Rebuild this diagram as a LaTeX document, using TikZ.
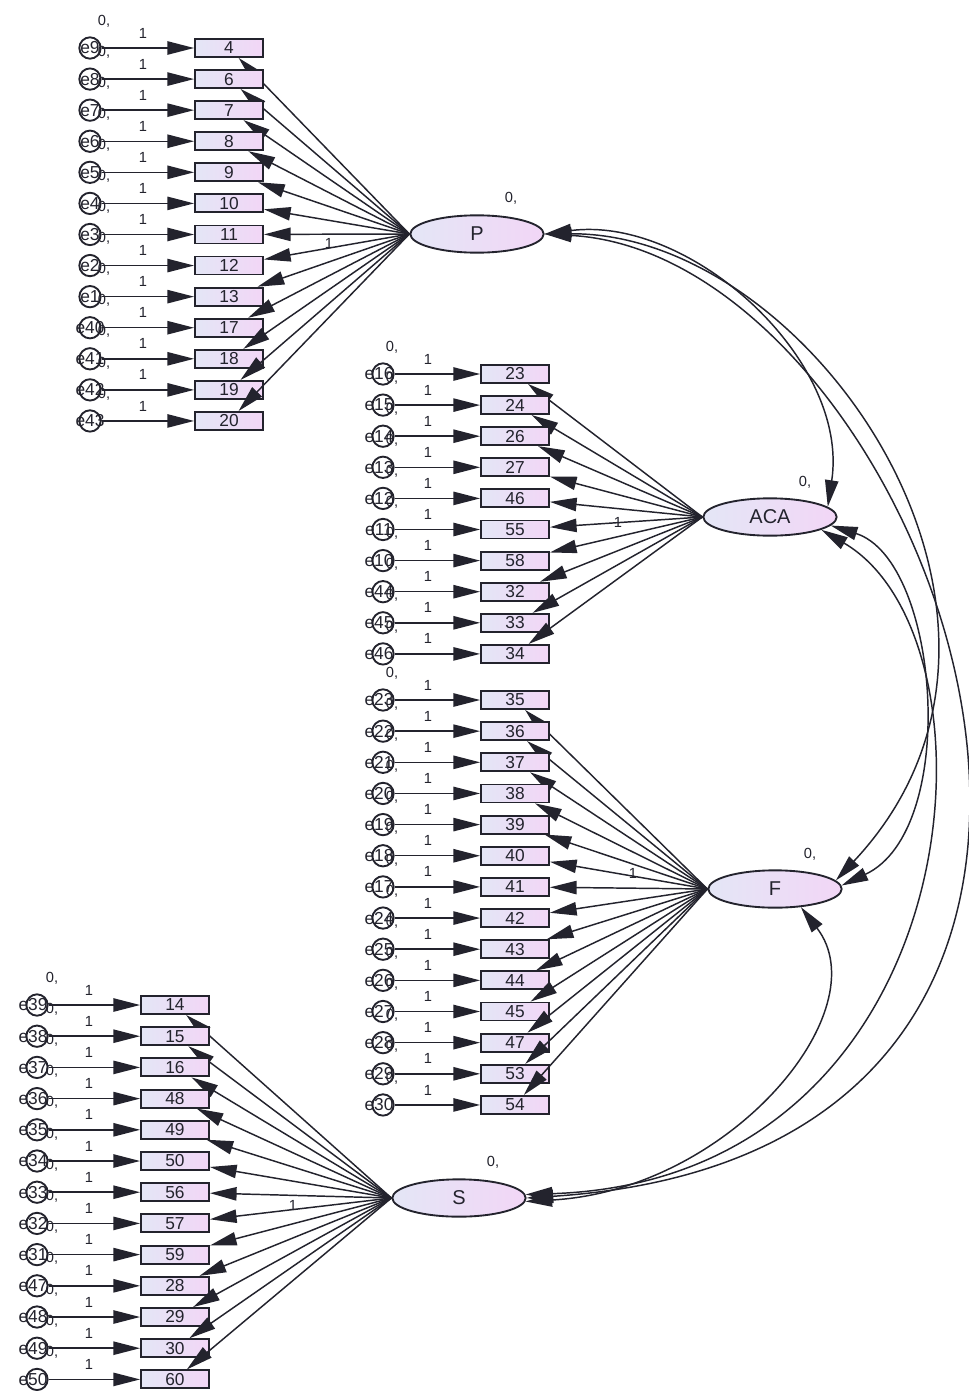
\documentclass[tikz,border=0pt]{standalone}
\usepackage{fontspec}
\setmainfont{Liberation Sans}
\usetikzlibrary{arrows.meta,shapes.geometric}
\definecolor{boxL}{RGB}{228,230,246}
\definecolor{boxR}{RGB}{242,214,246}
\definecolor{ink}{RGB}{35,35,45}
\begin{document}
\begin{tikzpicture}[x=0.75pt,y=-0.75pt,
  >={Triangle[length=20pt,width=10pt]},
  obs/.style={draw=ink, line width=1.4pt, left color=boxL, right color=boxR, minimum width=51pt, minimum height=13.5pt, inner sep=0pt, font=\fontsize{13}{13}\selectfont, text=ink},
  lat/.style={ellipse, draw=ink, line width=1.4pt, left color=boxL, right color=boxR, minimum width=100pt, minimum height=28pt, inner sep=0pt, font=\fontsize{15}{15}\selectfont, text=ink},
  err/.style={circle, draw=ink, line width=1.4pt, fill=white, minimum size=16pt, inner sep=0pt},
  errlab/.style={font=\fontsize{13}{13}\selectfont, inner sep=0pt, text=ink},
  lbl/.style={font=\fontsize{11}{11}\selectfont, text=ink, inner sep=0pt},
  ld/.style={->, line width=1.1pt, draw=ink},
  cov/.style={<->, line width=1.1pt, draw=ink}
]
\useasboundingbox[fill=white] (0,0) rectangle (968,1391);

% latent variables
\node[lat] (P) at (477,234) {P};
\node[lat] (ACA) at (770,517) {ACA};
\node[lat] (F) at (775,889) {F};
\node[lat] (S) at (459,1198) {S};
\node[lbl] (vP) at (511,198) {0,};
\node[lbl] (vACA) at (805,482) {0,};
\node[lbl] (vF) at (810,854) {0,};
\node[lbl] (vS) at (493,1162) {0,};

% P group
\foreach \itm/\er [count=\i from 0] in {4/9,6/8,7/7,8/6,9/5,10/4,11/3,12/2,13/1,17/40,18/41,19/42,20/43}{
  \pgfmathsetmacro\yy{48+31.08*\i}
  \node[obs] (b\itm) at (229,\yy) {\itm};
  \node[err] (c\er) at (90,\yy) {};
  \node[errlab] (t\er) at (90,\yy) {e\er};
  \node[lbl] (one\er) at (143,\yy-15) {1};
  \node[lbl] (z\er) at (104,\yy-27) {0,};
  \draw[ld] (c\er) -- (b\itm);
  \draw[ld] (P.west) -- (b\itm);
}
\node[lbl] (fP) at (329,243) {1};

% ACA group
\foreach \itm/\er [count=\i from 0] in {23/16,24/15,26/14,27/13,46/12,55/11,58/10,32/44,33/45,34/46}{
  \pgfmathsetmacro\yy{374+31.1*\i}
  \node[obs] (b\itm) at (515,\yy) {\itm};
  \node[err] (c\er) at (383,\yy) {};
  \node[errlab] (t\er) at (379,\yy) {e\er};
  \node[lbl] (one\er) at (428,\yy-15) {1};
  \node[lbl] (z\er) at (392,\yy-27) {0,};
  \draw[ld] (c\er) -- (b\itm);
  \draw[ld] (ACA.west) -- (b\itm);
}
\node[lbl] (fACA) at (618,522) {1};

% F group
\foreach \itm/\er [count=\i from 0] in {35/23,36/22,37/21,38/20,39/19,40/18,41/17,42/24,43/25,44/26,45/27,47/28,53/29,54/30}{
  \pgfmathsetmacro\yy{700+31.15*\i}
  \node[obs] (b\itm) at (515,\yy) {\itm};
  \node[err] (c\er) at (383,\yy) {};
  \node[errlab] (t\er) at (379,\yy) {e\er};
  \node[lbl] (one\er) at (428,\yy-15) {1};
  \node[lbl] (z\er) at (392,\yy-27) {0,};
  \draw[ld] (c\er) -- (b\itm);
  \draw[ld] (F.west) -- (b\itm);
}
\node[lbl] (fF) at (633,873) {1};

% S group
\foreach \itm/\er [count=\i from 0] in {14/39,15/38,16/37,48/36,49/35,50/34,56/33,57/32,59/31,28/47,29/48,30/49,60/50}{
  \pgfmathsetmacro\yy{1005+31.2*\i}
  \node[obs] (b\itm) at (175,\yy) {\itm};
  \node[err] (c\er) at (37,\yy) {};
  \node[errlab] (t\er) at (33,\yy) {e\er};
  \node[lbl] (one\er) at (89,\yy-15) {1};
  \node[lbl] (z\er) at (52,\yy-27) {0,};
  \draw[ld] (c\er) -- (b\itm);
  \draw[ld] (S.west) -- (b\itm);
}
\node[lbl] (fS) at (293,1205) {1};

% covariances
\draw[cov] (P.east) .. controls (690,215) and (850,360) .. (ACA.10);
\draw[cov] (P.east) .. controls (810,232) and (1080,620) .. (F.8);
\draw[cov] (P.east) .. controls (930,255) and (1260,1150) .. (S.east);
\draw[cov] (ACA.-8) .. controls (940,560) and (960,830) .. (F.3);
\draw[cov] (ACA.-14) .. controls (1010,640) and (975,1180) .. (S.3);
\draw[cov] (F.-35) .. controls (880,1010) and (730,1190) .. (S.-3);
\end{tikzpicture}
\end{document}
